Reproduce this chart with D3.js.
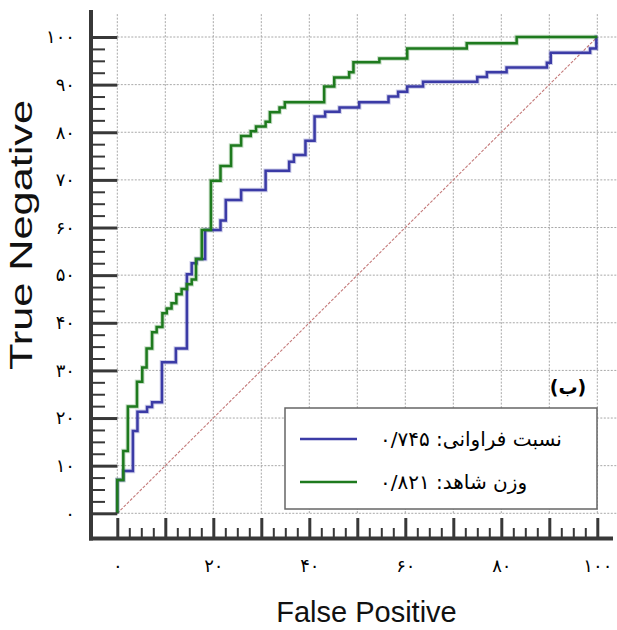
<!DOCTYPE html>
<html><head><meta charset="utf-8">
<script src="https://cdn.jsdelivr.net/npm/d3@7/dist/d3.min.js"></script>
<style>
html,body{margin:0;padding:0;background:#fff;}
svg{display:block;}
</style></head>
<body>
<svg id="chart" width="617" height="630"></svg>
<script>
// ---- data ----
// ROC points (false positive %, true negative %) for each series; drawn as steps
const freqRatioX = [0,0,1.25,3.25,4.2,6.2,7.25,9.3,12.2,14.5,15.5,16.5,18.3,21.5,22.6,25.8,30.9,35.8,36.8,39.2,41.1,43.3,46.3,50.4,56.5,58.5,60.4,63.7,75,77,81.1,89.5,90.3,98.5,99.8,100];
const freqRatioY = [0,7.0,8.9,17.3,21.3,22.3,23.3,31.7,34.6,50.2,52.5,53.4,59.5,61.5,65.8,67.9,71.9,73.8,75.2,78.2,83.3,84.3,85.2,86.3,87.5,88.5,89.6,90.6,91.6,92.6,93.6,94.6,96.7,97.6,100,100];
const evidenceWeightX = [0,0,1.25,2.2,4.1,5.2,6.1,7.25,8.2,9.4,10.3,11.3,12.3,13.4,14.5,15.5,16.4,17.6,19.5,21.5,23.7,25.8,27.8,28.9,30.9,31.8,33.8,34.9,43.1,45.2,48.3,49.2,54.6,60.4,72.8,83.2,100];
const evidenceWeightY = [0,7.0,13.1,22.4,27.6,30.6,34.6,38.0,39.1,42.0,43.0,44.1,46.0,47.1,48.1,49.1,53.4,59.5,69.8,72.9,77.2,79.2,80.2,81.2,82.2,84.2,85.2,86.3,89.6,91.5,92.6,94.7,95.5,97.6,98.7,100,100];
const seriesNames = ["نسبت فراوانی: ۰/۷۴۵", "وزن شاهد: ۰/۸۲۱"];
const xTickValues = [0,20,40,60,80,100];
const xTickLabels = ["۰","۲۰","۴۰","۶۰","۸۰","۱۰۰"];
const yTickValues = [0,10,20,30,40,50,60,70,80,90,100];
const yTickLabels = ["۰","۱۰","۲۰","۳۰","۴۰","۵۰","۶۰","۷۰","۸۰","۹۰","۱۰۰"];
const xTitle = "False Positive";
const yTitle = "True Negative";
const panelLabel = "(ب)";

// ---- drawing ----
const svg = d3.select("#chart");
const x = d3.scaleLinear().domain([0,100]).range([117.3,597.3]);
const y = d3.scaleLinear().domain([0,100]).range([513.3,37]);
const axisColor = "#383838";
const latin = "'Liberation Sans', Arial, sans-serif";
const persian = "'DejaVu Sans', 'Liberation Sans', sans-serif";

// grid
const grid = svg.append("g");
grid.selectAll("line.v").data(d3.range(0,101,10)).join("line")
  .attr("x1", d=>x(d)).attr("x2", d=>x(d))
  .attr("y1", y(104.8)).attr("y2", y(0))
  .attr("stroke","#a8a8a8").attr("stroke-width",1).attr("stroke-dasharray","2,1.5");
grid.selectAll("line.h").data(d3.range(0,101,10)).join("line")
  .attr("x1", x(0)).attr("x2", 617)
  .attr("y1", d=>y(d)).attr("y2", d=>y(d))
  .attr("stroke","#a8a8a8").attr("stroke-width",1).attr("stroke-dasharray","2,1.5");

// diagonal reference
svg.append("line")
  .attr("x1", x(0)).attr("y1", y(0)).attr("x2", x(100)).attr("y2", y(100))
  .attr("stroke","#c47a7a").attr("stroke-width",1.1).attr("stroke-dasharray","3,1.5");

// series
const line = d3.line().x(d=>x(d[0])).y(d=>y(d[1])).curve(d3.curveStepAfter);
const series = [
  {pts: d3.zip(freqRatioX, freqRatioY), color:"#3b3ba6"},
  {pts: d3.zip(evidenceWeightX, evidenceWeightY), color:"#1e7a1e"}
];
series.forEach(s=>{
  svg.append("path").datum(s.pts).attr("d", line)
    .attr("fill","none").attr("stroke", s.color).attr("stroke-opacity",0.25)
    .attr("stroke-width",4.5).attr("stroke-linejoin","miter");
  svg.append("path").datum(s.pts).attr("d", line)
    .attr("fill","none").attr("stroke", s.color)
    .attr("stroke-width",2.5).attr("stroke-linejoin","miter");
});

// Y axis (ticks pointing inward from axis line at x=91)
const yMajor = svg.append("g").attr("transform",`translate(${x(0)},0)`)
  .call(d3.axisLeft(y).tickValues(yTickValues).tickSize(x(0)-91).tickPadding(16)
    .tickFormat((d,i)=>yTickLabels[i]));
const yMinor = svg.append("g").attr("transform",`translate(105,0)`)
  .call(d3.axisLeft(y).tickValues(d3.range(0,101,2.5).filter(v=>v%10!==0)).tickSize(14).tickFormat(""));
[yMajor,yMinor].forEach(g=>{ g.select(".domain").remove(); g.selectAll(".tick line").attr("stroke",axisColor); });
yMajor.selectAll(".tick line").attr("stroke-width",3);
yMinor.selectAll(".tick line").attr("stroke-width",2);
yMajor.selectAll("text").attr("font-family",persian).attr("font-size",18).attr("fill","#000");

// X axis (ticks pointing up from axis line at y=538.5)
const xMajor = svg.append("g").attr("transform",`translate(0,518)`)
  .call(d3.axisBottom(x).tickValues(d3.range(0,101,10)).tickSize(20.5).tickPadding(21)
    .tickFormat(d=>{const i=xTickValues.indexOf(d); return i>=0?xTickLabels[i]:"";}));
const xMinor = svg.append("g").attr("transform",`translate(0,528)`)
  .call(d3.axisBottom(x).tickValues(d3.range(0,101,2.5).filter(v=>v%10!==0)).tickSize(10.5).tickFormat(""));
[xMajor,xMinor].forEach(g=>{ g.select(".domain").remove(); g.selectAll(".tick line").attr("stroke",axisColor); });
xMajor.selectAll(".tick line").attr("stroke-width",3);
xMinor.selectAll(".tick line").attr("stroke-width",2);
xMajor.selectAll("text").attr("font-family",persian).attr("font-size",18).attr("fill","#000");

// axis lines
svg.append("line").attr("x1",91).attr("x2",91).attr("y1",10).attr("y2",540.5)
  .attr("stroke",axisColor).attr("stroke-width",4);
svg.append("line").attr("x1",89).attr("x2",613).attr("y1",538.5).attr("y2",538.5)
  .attr("stroke",axisColor).attr("stroke-width",4);

// axis titles
svg.append("text").text(xTitle).attr("x",366.5).attr("y",622)
  .attr("text-anchor","middle").attr("font-family",latin).attr("font-size",29).attr("fill","#111");
svg.append("text").text(yTitle)
  .attr("transform","translate(32,235) rotate(-90)")
  .attr("text-anchor","middle").attr("font-family",latin).attr("font-size",32)
  .attr("textLength",270).attr("lengthAdjust","spacingAndGlyphs").attr("fill","#111");

// panel label
svg.append("text").text(panelLabel).attr("x",568).attr("y",394)
  .attr("text-anchor","middle").attr("font-family",persian).attr("font-weight","bold")
  .attr("font-size",19).attr("fill","#000");

// legend
const lg = svg.append("g");
lg.append("rect").attr("x",285).attr("y",408).attr("width",312).attr("height",101)
  .attr("fill","#fff").attr("stroke","#666").attr("stroke-width",1.5);
series.forEach((s,i)=>{
  const ly = 439 + i*43;
  lg.append("line").attr("x1",300).attr("x2",357).attr("y1",ly).attr("y2",ly)
    .attr("stroke",s.color).attr("stroke-width",2.5);
  lg.append("text").text(seriesNames[i]).attr("x",380).attr("y",ly+7)
    .attr("text-anchor","start").attr("font-family",persian).attr("font-size",20).attr("fill","#000");
});
</script>
</body></html>
